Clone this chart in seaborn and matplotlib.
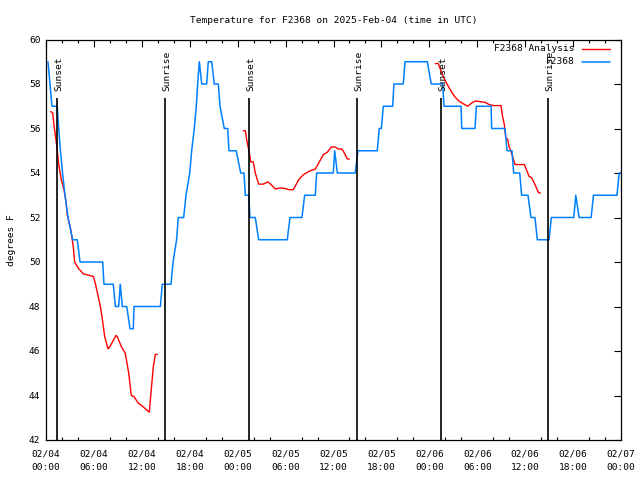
import matplotlib
matplotlib.use("Agg")
import matplotlib.pyplot as plt
import matplotlib.dates as mdates
import numpy as np
import pandas as pd
import seaborn as sns

# observed station values: hours after 2025-02-04 00:00 UTC, degrees F
obs_hours = [0.25, 0.50, 0.75, 1.41, 1.59, 1.81, 2.07, 2.38, 2.76, 3.34, 3.92, 4.26,
             7.10, 7.26, 8.43, 8.68, 9.10, 9.30, 9.55, 10.11, 10.52, 10.93, 11.02,
             14.32, 14.56, 15.65, 15.91, 16.35, 16.56, 17.24, 17.53, 18.00, 18.24,
             18.57, 18.82, 18.99, 19.20, 19.50, 20.12, 20.32, 20.75, 21.07, 21.58,
             21.79, 22.32, 22.75, 22.91, 23.82, 24.38, 24.79, 24.96, 25.38, 25.55,
             26.21, 26.63, 30.21, 30.55, 32.05, 32.39, 33.72, 33.89, 35.97, 36.15,
             36.48, 38.72, 39.06, 41.48, 41.73, 41.99, 42.24, 43.41, 43.57, 44.74,
             44.95, 47.75, 48.24, 49.67, 49.84, 51.97, 52.06, 53.72, 53.89, 55.73,
             55.81, 57.48, 57.73, 58.35, 58.56, 59.32, 59.56, 60.35, 60.73, 61.23,
             61.52, 62.99, 63.28, 66.09, 66.34, 66.75, 68.26, 68.55, 71.49, 71.78, 72.0]
obs_temp = [59, 58, 57, 57, 56, 55, 54, 53, 52, 51, 51, 50,
            50, 49, 49, 48, 48, 49, 48, 48, 47, 47, 48,
            48, 49, 49, 50, 51, 52, 52, 53, 54, 55,
            56, 57, 58, 59, 58, 58, 59, 59, 58, 58,
            57, 56, 56, 55, 55, 54, 54, 53, 53, 52,
            52, 51, 51, 52, 52, 53, 53, 54, 54, 55,
            54, 54, 55, 55, 56, 56, 57, 57, 58, 58,
            59, 59, 58, 58, 57, 57, 56, 56, 57, 57,
            56, 56, 55, 55, 54, 54, 53, 53, 52, 52,
            51, 51, 52, 52, 53, 52, 52, 53, 53, 54, 54]

# analysis values, three separate nightly runs
ana_hours = [
    [0.59, 0.84, 1.01, 1.17, 1.41, 1.59, 1.91, 2.25, 2.51, 2.67, 3.10, 3.41, 3.59,
     4.09, 4.67, 5.92, 6.17, 6.77, 7.01, 7.35, 7.76, 8.01, 8.77, 8.92, 9.43, 9.93,
     10.36, 10.68, 11.02, 11.56, 11.98, 12.60, 12.93, 13.18, 13.44, 13.69, 13.94],
    [24.70, 24.96, 25.13, 25.38, 25.64, 25.95, 26.21, 26.63, 27.21, 27.79, 28.21,
     28.71, 29.39, 30.05, 30.39, 30.97, 31.64, 32.22, 32.90, 33.72, 34.15, 34.73,
     35.22, 35.72, 36.23, 36.57, 37.06, 37.31, 37.73, 37.98],
    [48.74, 49.12, 49.55, 49.96, 50.37, 50.80, 51.21, 51.72, 52.31, 52.81, 53.31,
     53.81, 54.48, 54.97, 55.47, 56.01, 56.97, 57.14, 57.39, 57.57, 57.82, 57.98,
     58.15, 58.39, 58.73, 59.90, 60.15, 60.49, 60.82, 61.23, 61.65, 61.90],
]
ana_temp = [
    [56.76, 56.7, 56.1, 55.7, 55.05, 54.4, 53.7, 53.25, 52.7, 52.1, 51.45, 50.7, 50.0,
     49.7, 49.47, 49.35, 49.05, 48.07, 47.55, 46.65, 46.1, 46.2, 46.7, 46.65, 46.2, 45.9,
     45.0, 44.0, 43.95, 43.65, 43.55, 43.35, 43.25, 44.25, 45.3, 45.85, 45.85],
    [55.9, 55.9, 55.5, 55.05, 54.5, 54.5, 54.0, 53.5, 53.5, 53.6, 53.47,
     53.28, 53.33, 53.3, 53.25, 53.25, 53.7, 53.92, 54.07, 54.18, 54.45, 54.83,
     54.93, 55.17, 55.17, 55.08, 55.08, 54.93, 54.63, 54.63],
    [58.92, 58.92, 58.5, 58.17, 57.9, 57.63, 57.42, 57.23, 57.1, 57.0, 57.15,
     57.24, 57.2, 57.18, 57.08, 57.03, 57.03, 56.6, 56.17, 55.6, 55.5, 55.2,
     55.05, 54.78, 54.38, 54.38, 54.15, 53.85, 53.78, 53.48, 53.13, 53.1],
]

sun_hours = [1.41, 14.94, 25.46, 38.98, 49.50, 62.90]
sun_names = ["Sunset", "Sunrise", "Sunset", "Sunrise", "Sunset", "Sunrise"]

base = pd.Timestamp("2025-02-04 00:00")
obs_df = pd.DataFrame({"time": base + pd.to_timedelta(obs_hours, unit="h"),
                       "temp": obs_temp})
ana_df = pd.concat([
    pd.DataFrame({"time": base + pd.to_timedelta(h, unit="h"), "temp": t, "seg": i})
    for i, (h, t) in enumerate(zip(ana_hours, ana_temp))
], ignore_index=True)

sns.set_theme(style="white")
plt.rcParams["font.family"] = ["DejaVu Sans Mono"]
plt.rcParams["font.size"] = 6.8
for key in ["text.color", "axes.labelcolor", "xtick.color", "ytick.color"]:
    plt.rcParams[key] = "black"

fig = plt.figure(figsize=(6.4, 4.8), dpi=100)
ax = fig.add_axes([46 / 640, 40 / 480, 575 / 640, 400.5 / 480])

red = "#ff0000"
blue = "#0080ff"
sns.lineplot(data=ana_df, x="time", y="temp", units="seg", estimator=None, sort=False,
             color=red, linewidth=1.0, ax=ax, legend=False)
sns.lineplot(data=obs_df, x="time", y="temp", estimator=None, sort=False,
             color=blue, linewidth=1.1, ax=ax, legend=False)

sun_times = base + pd.to_timedelta(sun_hours, unit="h")
ax.vlines(sun_times, 42, 57.35, color="black", linewidth=1.2)
for t, name in zip(sun_times, sun_names):
    ax.text(t + pd.Timedelta(hours=0.18), 57.68, name, rotation=90,
            ha="center", va="bottom", fontsize=6.8)

ax.set_xlim(base, base + pd.Timedelta(hours=72))
ax.set_ylim(42, 60)
ax.set_yticks(np.arange(42, 61, 2))
ax.xaxis.set_major_locator(mdates.HourLocator(byhour=[0, 6, 12, 18]))
ax.xaxis.set_minor_locator(mdates.HourLocator(byhour=range(0, 24, 2)))
ax.xaxis.set_major_formatter(mdates.DateFormatter("%m/%d\n%H:%M"))
ax.tick_params(axis="both", which="major", direction="in", length=5, width=0.8,
               top=True, right=True, labelsize=6.8, color="black", labelcolor="black")
ax.tick_params(axis="x", which="minor", direction="in", length=2.5, width=0.8,
               top=True, bottom=True, color="black")
ax.tick_params(axis="x", which="major", pad=7)
ax.tick_params(axis="y", which="major", pad=4)
for s in ax.spines.values():
    s.set_color("black")
    s.set_linewidth(0.9)

ax.set_xlabel("")
ax.set_ylabel("degrees F", fontsize=6.8, labelpad=9, color="black")
ax.set_title("Temperature for F2368 on 2025-Feb-04 (time in UTC)", fontsize=6.8, pad=12,
             color="black")

# gnuplot-style key: right-aligned labels with line samples after them
ax.text(0.92, 0.9775, "F2368 Analysis", transform=ax.transAxes, ha="right", va="center",
        fontsize=6.8)
ax.text(0.92, 0.944, "F2368", transform=ax.transAxes, ha="right", va="center", fontsize=6.8)
ax.plot([0.932, 0.981], [0.9775, 0.9775], transform=ax.transAxes, color=red, linewidth=1.0)
ax.plot([0.932, 0.981], [0.944, 0.944], transform=ax.transAxes, color=blue, linewidth=1.1)

fig.canvas.draw()
for lbl in ax.get_xticklabels():
    lbl.set_linespacing(1.55)

fig.savefig("out.png", dpi=100)
